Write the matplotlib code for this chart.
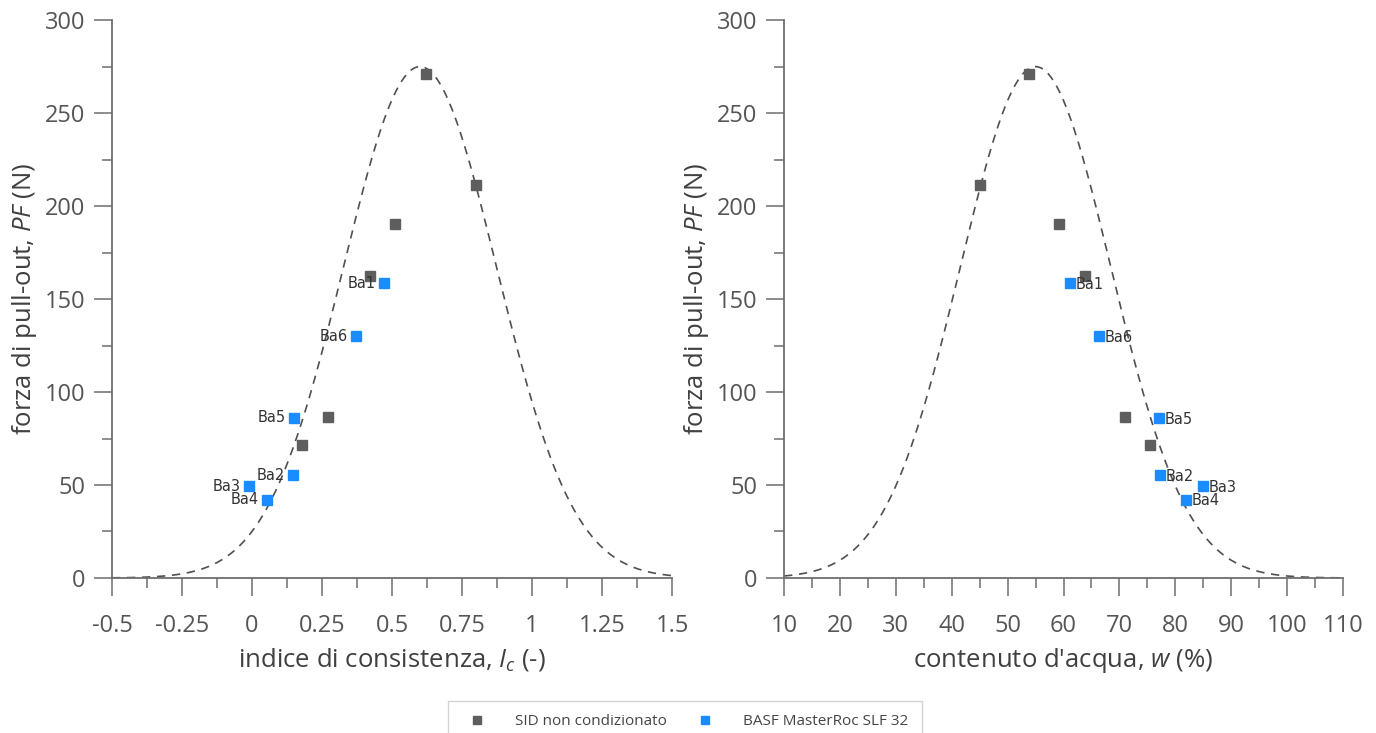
import numpy as np
import matplotlib.pyplot as plt
from matplotlib.ticker import MultipleLocator, FuncFormatter

plt.rcParams['font.family'] = ['Open Sans', 'DejaVu Sans']
plt.rcParams['mathtext.fontset'] = 'custom'
plt.rcParams['mathtext.rm'] = 'Open Sans'
plt.rcParams['mathtext.it'] = 'Open Sans:italic'

# SID non condizionato (gray)
sid_ic = [0.62, 0.80, 0.51, 0.42, 0.27, 0.18]
sid_w = [53.9, 45.0, 59.2, 63.8, 71.0, 75.5]
sid_pf = [271, 211.5, 190.5, 162.5, 86.5, 71.5]

# BASF MasterRoc SLF 32 (blue)
basf_names = ['Ba1', 'Ba2', 'Ba3', 'Ba4', 'Ba5', 'Ba6']
basf_ic = [0.471, 0.146, -0.012, 0.053, 0.149, 0.371]
basf_w = [61.2, 77.2, 85.0, 81.9, 77.1, 66.4]
basf_pf = [158.6, 55.3, 49.3, 42.2, 86.2, 130.0]

# gaussian trend curves (peak, centre, width)
fit_ic = (275.0, 0.60, 0.274)
fit_w = (275.0, 55.0, 13.5)

gray = '#5e5e5e'
blue = '#1a8cff'
axcol = '#6e6e6e'
txtcol = '#555555'


def gauss(x, p):
    a, mu, s = p
    return a * np.exp(-(x - mu) ** 2 / (2 * s ** 2))


def style_axis(ax, xmin, xmax, xmaj, xmin_step):
    for s in ['top', 'right']:
        ax.spines[s].set_visible(False)
    for s in ['left', 'bottom']:
        ax.spines[s].set_color(axcol)
        ax.spines[s].set_linewidth(1.3)
    ax.set_xlim(xmin, xmax)
    ax.set_ylim(0, 300)
    ax.xaxis.set_major_locator(MultipleLocator(xmaj))
    ax.xaxis.set_minor_locator(MultipleLocator(xmin_step))
    ax.yaxis.set_major_locator(MultipleLocator(50))
    ax.yaxis.set_minor_locator(MultipleLocator(25))
    ax.tick_params(which='major', length=13, width=1.1, color=axcol,
                   labelsize=17, labelcolor=txtcol, pad=6)
    ax.tick_params(axis='x', which='major', pad=13)
    ax.tick_params(which='minor', length=7, width=1.1, color=axcol)
    ax.xaxis.set_major_formatter(FuncFormatter(lambda v, pos: ('%g' % round(v, 3))))
    ax.set_ylabel('forza di pull-out, $\\mathit{PF}$ (N)', fontsize=18.5, color='#404040', labelpad=4)


fig = plt.figure(figsize=(13.76, 7.33), dpi=100)
ax1 = fig.add_axes([0.0814, 0.2115, 0.407, 0.761])
ax2 = fig.add_axes([0.5698, 0.2115, 0.4062, 0.761])

# left: consistency index
xx = np.linspace(-0.5, 1.5, 400)
ax1.plot(xx, gauss(xx, fit_ic), ls=(0, (5, 4)), color='#505050', lw=1.2)
ax1.plot(sid_ic, sid_pf, 's', color=gray, ms=7.5, label='SID non condizionato')
ax1.plot(basf_ic, basf_pf, 's', color=blue, ms=7.5, label='BASF MasterRoc SLF 32')
for n, x, y in zip(basf_names, basf_ic, basf_pf):
    ax1.annotate(n, (x, y), xytext=(-6, 0), textcoords='offset points',
                 ha='right', va='center', fontsize=10.5, family='DejaVu Sans', color='#333333')
style_axis(ax1, -0.5, 1.5, 0.25, 0.125)
ax1.set_xlabel('indice di consistenza, $I_c$ (-)', fontsize=18.5, color='#404040', labelpad=6)

# right: water content
ww = np.linspace(10, 110, 400)
ax2.plot(ww, gauss(ww, fit_w), ls=(0, (5, 4)), color='#505050', lw=1.2)
ax2.plot(sid_w, sid_pf, 's', color=gray, ms=7.5)
ax2.plot(basf_w, basf_pf, 's', color=blue, ms=7.5)
for n, x, y in zip(basf_names, basf_w, basf_pf):
    ax2.annotate(n, (x, y), xytext=(4, -1), textcoords='offset points',
                 ha='left', va='center', fontsize=10.5, family='DejaVu Sans', color='#333333')
style_axis(ax2, 10, 110, 10, 5)
ax2.set_xlabel("contenuto d'acqua, $w$ (%)", fontsize=18.5, color='#404040', labelpad=6)

h, l = ax1.get_legend_handles_labels()
leg = fig.legend(h, l, loc='upper center', bbox_to_anchor=(0.498, 0.0546), ncol=2,
                 fontsize=11, frameon=True, fancybox=False, edgecolor='#c8c8c8',
                 handletextpad=1.5, columnspacing=1.5, borderpad=0.9, markerscale=0.85)
for t in leg.get_texts():
    t.set_color('#444444')

fig.savefig('out.png', dpi=100)
